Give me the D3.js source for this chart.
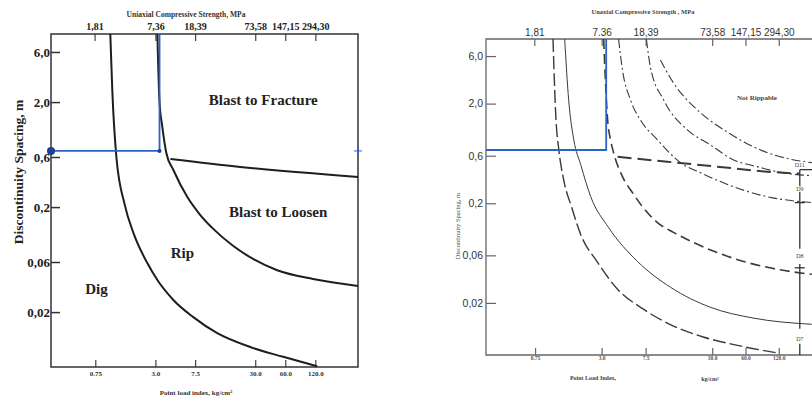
<!DOCTYPE html>
<html>
<head>
<meta charset="utf-8">
<script src="https://cdn.jsdelivr.net/npm/d3@7"></script>
<style>
  body { margin: 0; background: #fff; }
  svg { display: block; }
</style>
</head>
<body>
<div id="viz"></div>
<script>
// axis values (point load index in kg/cm2, UCS in MPa, spacing in m)
const isTicks = [0.75, 3, 7.5, 30, 60, 120];
const isLabels = ["0.75", "3.0", "7.5", "30.0", "60.0", "120.0"];
const ucsTicks = [1.81, 7.36, 18.39, 73.58, 147.15, 294.30];
const ucsLabelsLeft = ["1,81", "7,36", "18,39", "73,58", "147,15", "294,30"];
const ucsLabelsRight = ["1,81", "7.36", "18,39", "73,58", "147,15", "294,30"];
const spacingTicks = [6, 2, 0.6, 0.2, 0.06, 0.02];
const spacingLabels = ["6,0", "2,0", "0,6", "0,2", "0,06", "0,02"];
const ucsFactor = 2.4525;

// left chart boundaries, [point load index, spacing]
const digRip = [[1.06, 8.9], [1.11, 2.6], [1.22, 0.6], [1.48, 0.21], [1.81, 0.113], [2.49, 0.0586],
  [3.14, 0.0404], [4.54, 0.0261], [7.19, 0.0179], [12.5, 0.0126], [26.7, 0.0093], [57.1, 0.0075], [125, 0.0061]];
const ripBlast = [[3.14, 8.9], [3.29, 2.09], [3.52, 1.16], [3.86, 0.655], [4.54, 0.451], [6.27, 0.249],
  [8.45, 0.168], [11.4, 0.124], [18.1, 0.0851], [28.6, 0.0641], [49.8, 0.050], [114, 0.0413], [321, 0.0354]];
const fractureLoosen = [[4.24, 0.574], [21.2, 0.482], [321, 0.387]];
const leftZones = [
  {text: "Blast to Fracture", is: 36.1, s: 2.09},
  {text: "Blast to Loosen", is: 50.9, s: 0.179},
  {text: "Rip", is: 5.58, s: 0.073},
  {text: "Dig", is: 0.77, s: 0.0332}
];

// right chart curves
const curveA = [[1.09, 8.9], [1.16, 1.37], [1.23, 0.689], [1.36, 0.345], [1.61, 0.181], [1.94, 0.0973],
  [2.76, 0.051], [4.18, 0.0274], [7.16, 0.0173], [13.4, 0.0117], [24.9, 0.0091], [53.6, 0.0074], [116, 0.0063]];
const curveB = [[1.39, 8.9], [1.51, 2.18], [1.68, 0.867], [1.94, 0.488], [2.39, 0.233], [3.47, 0.114],
  [6.32, 0.0522], [12.6, 0.0287], [28.8, 0.0181], [70.2, 0.0141], [239, 0.0122]];
const curveC = [[3.13, 8.9], [3.40, 1.37], [3.61, 0.867], [3.85, 0.643], [4.63, 0.370], [5.70, 0.256],
  [7.01, 0.185], [9.59, 0.128], [13.4, 0.102], [20.2, 0.081], [33.3, 0.064], [61.9, 0.051], [116, 0.0435], [239, 0.0387]];
const curveD = [[4.27, 8.9], [4.63, 4.35], [5.47, 2.18], [6.73, 1.37], [9.59, 0.867], [15.5, 0.511],
  [23.4, 0.406], [46.4, 0.294], [93.8, 0.233], [186, 0.208], [239, 0.203]];
const curveE = [[7.62, 8.9], [8.28, 4.66], [10.9, 2.18], [17.9, 1.09], [28.8, 0.773], [46.4, 0.547],
  [76.2, 0.466], [128, 0.406], [239, 0.378]];
const curveF = [[10.2, 5.47], [13.4, 3.22], [22.0, 1.73], [40.9, 1.04], [81.1, 0.689], [161, 0.547], [239, 0.511]];
const curveG = [[4.18, 0.586], [11.8, 0.522], [33.3, 0.466], [93.8, 0.415], [186, 0.396]];
const dozerIs = 186;
const dozerLabels = [
  {text: "D11", s: 0.488},
  {text: "D9", s: 0.281},
  {text: "D8", s: 0.0586},
  {text: "D7", s: 0.0087}
];
const dozerSegments = [[0.435, 0.07], [0.049, 0.011], [0.0078, 0.006]];
const dozerMarks = [0.203, 0.045];

const blueIs = 3.3, blueSpacing = 0.685;

const svg = d3.select("#viz")
  .append("svg")
    .attr("width", 812)
    .attr("height", 398);

function makeScales(p) {
  return {
    x: d3.scaleLog().domain([0.27, 321]).range([p.left, p.right]),
    u: d3.scaleLog().domain([0.27 * ucsFactor, 321 * ucsFactor]).range([p.left, p.right]),
    y: d3.scaleLog().domain([0.006, 8.9]).range([p.bottom, p.top])
  };
}

function styleAxis(g, family, size, weight, fill, tickColor, tickWidth) {
  g.select(".domain").remove();
  g.selectAll("text")
    .attr("font-family", family)
    .attr("font-size", size)
    .attr("font-weight", weight)
    .attr("fill", fill);
  g.selectAll("line").attr("stroke", tickColor).attr("stroke-width", tickWidth);
}

// ---------------- left chart ----------------
const L = {left: 51, right: 358, top: 34, bottom: 367};
const sl = makeScales(L);
const serif = "Liberation Serif";
const lineL = d3.line().x(d => sl.x(d[0])).y(d => sl.y(d[1])).curve(d3.curveMonotoneX);

svg.append("g")
  .attr("transform", `translate(${L.left},0)`)
  .call(d3.axisLeft(sl.y).tickValues(spacingTicks).tickFormat((d, i) => spacingLabels[i])
    .tickSizeInner(-9).tickSizeOuter(0).tickPadding(1))
  .call(g => styleAxis(g, serif, 13, "bold", "#222", "#333", 1.5));

svg.append("g")
  .attr("transform", `translate(0,${L.top})`)
  .call(d3.axisTop(sl.u).tickValues(ucsTicks).tickFormat((d, i) => ucsLabelsLeft[i])
    .tickSizeInner(-7).tickSizeOuter(0).tickPadding(4))
  .call(g => styleAxis(g, serif, 10, "bold", "#222", "#444", 1.2));

svg.append("g")
  .attr("transform", `translate(0,${L.bottom})`)
  .call(d3.axisBottom(sl.x).tickValues(isTicks).tickFormat((d, i) => isLabels[i])
    .tickSizeInner(-7).tickSizeOuter(0).tickPadding(4))
  .call(g => styleAxis(g, serif, 7, "bold", "#333", "#444", 1.2));

svg.append("rect")
  .attr("x", L.left).attr("y", L.top)
  .attr("width", L.right - L.left).attr("height", L.bottom - L.top)
  .attr("fill", "none").attr("stroke", "#333").attr("stroke-width", 1.5);

[digRip, ripBlast, fractureLoosen].forEach(c => {
  svg.append("path").attr("d", lineL(c))
    .attr("fill", "none").attr("stroke", "#1e1e1e").attr("stroke-width", 2);
});

svg.append("path")
  .attr("d", d3.line()([[sl.x(0.27), sl.y(blueSpacing)], [sl.x(blueIs), sl.y(blueSpacing)], [sl.x(blueIs), sl.y(8.9)]]))
  .attr("fill", "none").attr("stroke", "#2b63c4").attr("stroke-width", 1.8);
svg.append("circle").attr("cx", sl.x(0.27)).attr("cy", sl.y(blueSpacing)).attr("r", 4).attr("fill", "#1c3f91");
svg.append("circle").attr("cx", sl.x(blueIs)).attr("cy", sl.y(blueSpacing)).attr("r", 2).attr("fill", "#1c3f91");
svg.append("path")
  .attr("d", `M${sl.x(321) - 4},${sl.y(blueSpacing)}H${sl.x(321) + 4}M${sl.x(321)},${sl.y(blueSpacing) - 5}V${sl.y(blueSpacing) + 5}`)
  .attr("stroke", "#2b63c4").attr("stroke-width", 1);

svg.selectAll(".zoneL")
  .data(leftZones)
  .enter()
  .append("text")
    .attr("x", d => sl.x(d.is))
    .attr("y", d => sl.y(d.s))
    .attr("dy", "0.35em")
    .attr("text-anchor", "middle")
    .attr("font-family", serif)
    .attr("font-weight", "bold")
    .attr("font-size", 15)
    .attr("fill", "#222")
    .text(d => d.text);

svg.append("text")
  .attr("transform", "translate(23,172) rotate(-90)")
  .attr("text-anchor", "middle")
  .attr("font-family", serif).attr("font-weight", "bold").attr("font-size", 13.5).attr("fill", "#222")
  .text("Discontinuity Spacing, m");

svg.append("text")
  .attr("x", 186).attr("y", 17).attr("text-anchor", "middle")
  .attr("font-family", serif).attr("font-weight", "bold").attr("font-size", 7.5).attr("fill", "#333")
  .text("Uniaxial Compressive Strength, MPa");

svg.append("text")
  .attr("x", 196).attr("y", 395).attr("text-anchor", "middle")
  .attr("font-family", serif).attr("font-weight", "bold").attr("font-size", 7).attr("fill", "#333")
  .text("Point load index, kg/cm²");

// ---------------- right chart ----------------
const R = {left: 486, right: 826, top: 39, bottom: 355};
const sr = makeScales(R);
const sans = "Liberation Sans";
const lineR = d3.line().x(d => sr.x(d[0])).y(d => sr.y(d[1])).curve(d3.curveMonotoneX);

svg.append("defs").append("clipPath").attr("id", "clipR")
  .append("rect").attr("x", R.left).attr("y", R.top)
  .attr("width", R.right - R.left).attr("height", R.bottom - R.top);

svg.append("g")
  .attr("transform", `translate(${R.left},0)`)
  .call(d3.axisLeft(sr.y).tickValues(spacingTicks).tickFormat((d, i) => spacingLabels[i])
    .tickSizeInner(-10).tickSizeOuter(0).tickPadding(3))
  .call(g => styleAxis(g, sans, 10.5, "normal", "#333", "#666", 1.2));

svg.append("g")
  .attr("transform", `translate(0,${R.top})`)
  .call(d3.axisTop(sr.u).tickValues(ucsTicks).tickFormat((d, i) => ucsLabelsRight[i])
    .tickSizeInner(-7).tickSizeOuter(0).tickPadding(3))
  .call(g => styleAxis(g, sans, 10, "normal", "#333", "#666", 1.2));

svg.append("g")
  .attr("transform", `translate(0,${R.bottom})`)
  .call(d3.axisBottom(sr.x).tickValues(isTicks).tickFormat((d, i) => isLabels[i])
    .tickSizeInner(-7).tickSizeOuter(0).tickPadding(1))
  .call(g => styleAxis(g, serif, 5.5, "bold", "#555", "#666", 1.2));

svg.append("path")
  .attr("d", `M${R.right},${R.top}H${R.left}V${R.bottom}H${R.right}`)
  .attr("fill", "none").attr("stroke", "#666").attr("stroke-width", 1.3);

const rightCurves = [
  {pts: curveA, dash: "13,4", w: 1.4},
  {pts: curveB, dash: null, w: 1},
  {pts: curveC, dash: "10,5", w: 1.6},
  {pts: curveD, dash: "9,3,2,3", w: 1.1},
  {pts: curveE, dash: "9,3,2,3", w: 1.1},
  {pts: curveF, dash: "9,3,2,3", w: 1.1},
  {pts: curveG, dash: "14,6", w: 2}
];
const gR = svg.append("g").attr("clip-path", "url(#clipR)");
rightCurves.forEach(c => {
  gR.append("path").attr("d", lineR(c.pts))
    .attr("fill", "none").attr("stroke", "#3a3a3a").attr("stroke-width", c.w)
    .attr("stroke-dasharray", c.dash);
});

// dozer scale on the right
dozerSegments.forEach(s => {
  gR.append("path")
    .attr("d", d3.line()([[sr.x(dozerIs), sr.y(s[0])], [sr.x(dozerIs), sr.y(s[1])]]))
    .attr("stroke", "#333").attr("stroke-width", 1.3);
});
gR.append("path")
  .attr("d", d3.line()([[sr.x(dozerIs), sr.y(0.435)], [sr.x(321), sr.y(0.435)]]))
  .attr("stroke", "#333").attr("stroke-width", 1.3);
dozerMarks.forEach(m => {
  gR.append("path")
    .attr("d", d3.line()([[sr.x(dozerIs) - 5, sr.y(m)], [sr.x(dozerIs) + 5, sr.y(m)]]))
    .attr("stroke", "#333").attr("stroke-width", 1.3);
});
gR.selectAll(".dozer")
  .data(dozerLabels)
  .enter()
  .append("text")
    .attr("x", sr.x(dozerIs))
    .attr("y", d => sr.y(d.s))
    .attr("dy", "0.35em")
    .attr("text-anchor", "middle")
    .attr("font-family", serif).attr("font-size", 6).attr("fill", "#444")
    .attr("stroke", "#fff").attr("stroke-width", 2).attr("paint-order", "stroke")
    .text(d => d.text);

svg.append("path")
  .attr("d", d3.line()([[sr.x(0.27), sr.y(blueSpacing)], [sr.x(blueIs), sr.y(blueSpacing)], [sr.x(blueIs), sr.y(8.9)]]))
  .attr("fill", "none").attr("stroke", "#2b63c4").attr("stroke-width", 1.8);

svg.append("text")
  .attr("x", sr.x(76.2)).attr("y", sr.y(2.28)).attr("dy", "0.35em").attr("text-anchor", "middle")
  .attr("font-family", serif).attr("font-weight", "bold").attr("font-size", 7).attr("fill", "#444")
  .text("Not Rippable");

svg.append("text")
  .attr("transform", "translate(460,226) rotate(-90)")
  .attr("text-anchor", "middle")
  .attr("font-family", serif).attr("font-size", 6.5).attr("fill", "#444")
  .text("Discontinuity Spacing, m");

svg.append("text")
  .attr("x", 643).attr("y", 14).attr("text-anchor", "middle")
  .attr("font-family", serif).attr("font-weight", "bold").attr("font-size", 6.5).attr("fill", "#444")
  .text("Unaxial Compressive Strength  , MPa");

svg.append("text")
  .attr("x", 593).attr("y", 380).attr("text-anchor", "middle")
  .attr("font-family", serif).attr("font-weight", "bold").attr("font-size", 6).attr("fill", "#444")
  .text("Point Load Index,");
svg.append("text")
  .attr("x", 710).attr("y", 381).attr("text-anchor", "middle")
  .attr("font-family", serif).attr("font-weight", "bold").attr("font-size", 6).attr("fill", "#444")
  .text("kg/cm²");
</script>
</body>
</html>
